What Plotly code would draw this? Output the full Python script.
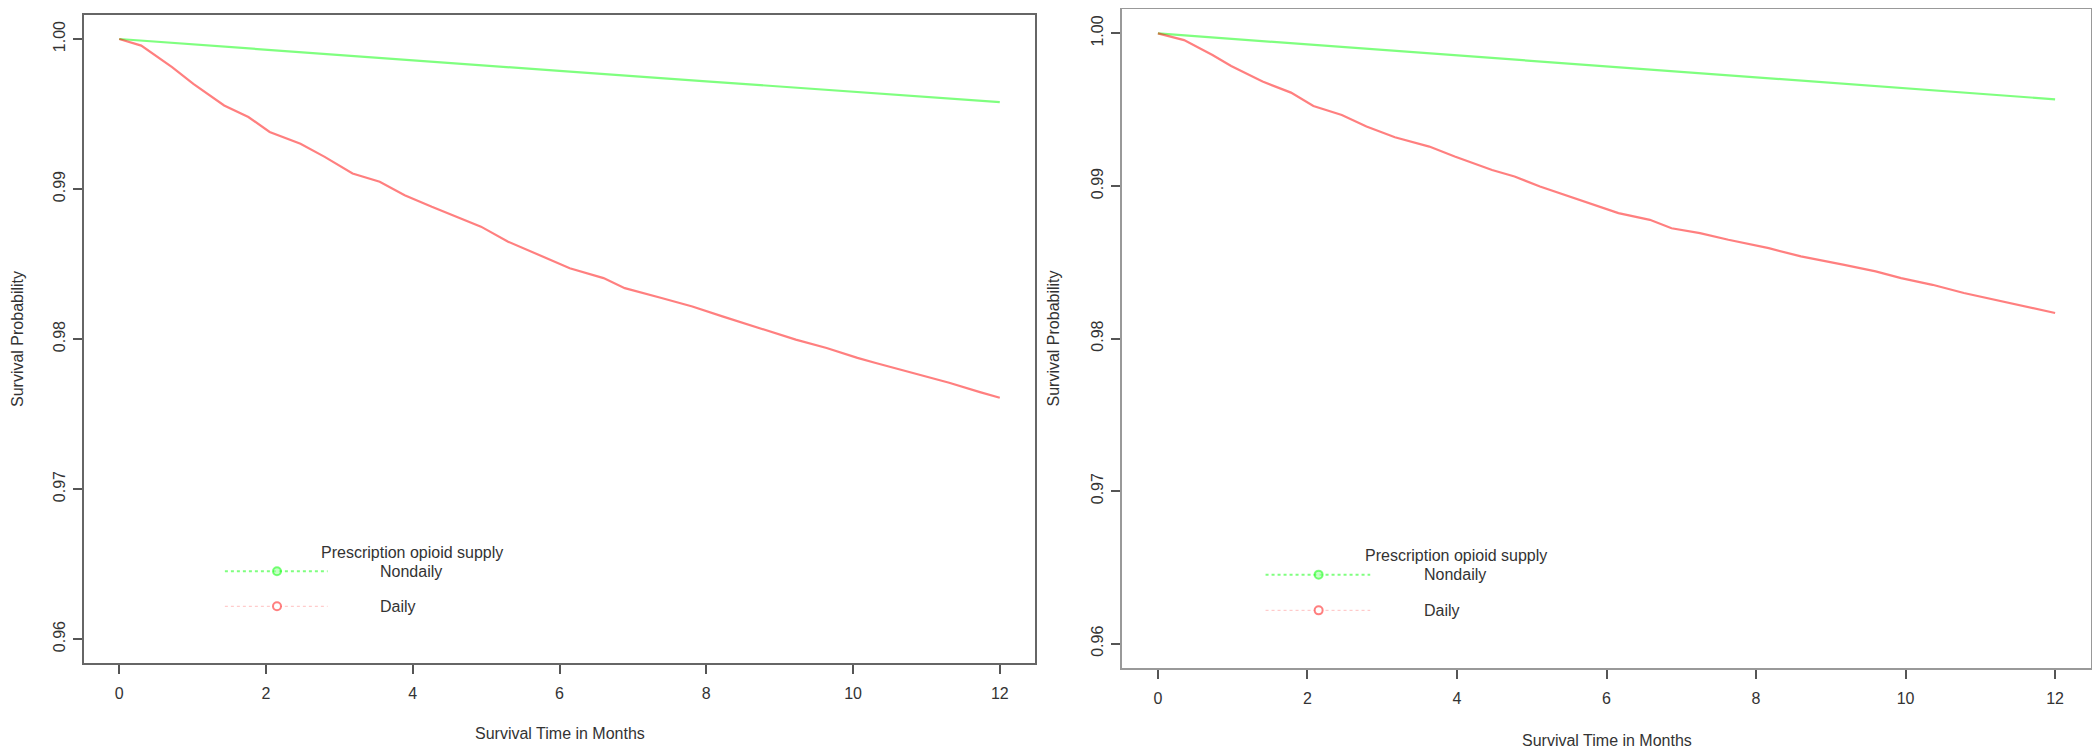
import plotly.graph_objects as go

# ---------------- data ----------------
left_daily_months = [0, 0.3, 0.72, 1.01, 1.43, 1.76, 2.05, 2.47, 2.8, 3.18, 3.55, 3.89, 4.26, 4.64,
                     4.93, 5.3, 5.72, 6.14, 6.6, 6.89, 7.39, 7.81, 8.22, 8.64, 9.22, 9.64, 10.06,
                     10.31, 10.81, 11.31, 11.73, 12.0]
left_daily_surv = [1.0, 0.99956, 0.99812, 0.99701, 0.99557, 0.9948, 0.9938, 0.99302, 0.99214,
                   0.99103, 0.99048, 0.98959, 0.98881, 0.98804, 0.98749, 0.98649, 0.9856, 0.98472,
                   0.98406, 0.98339, 0.98273, 0.98217, 0.98151, 0.98084, 0.97996, 0.9794, 0.97874,
                   0.9784, 0.97774, 0.97708, 0.97646, 0.97608]
left_nondaily_months = [0, 2, 4, 6, 8, 10, 12]
left_nondaily_surv = [1.0, 0.99928, 0.99858, 0.99787, 0.99718, 0.99648, 0.99579]

right_daily_months = [0, 0.35, 0.73, 0.98, 1.40, 1.78, 2.08, 2.46, 2.79, 3.17, 3.63, 3.97, 4.47,
                      4.77, 5.11, 5.65, 6.16, 6.58, 6.87, 7.25, 7.63, 8.17, 8.6, 9.18, 9.6, 9.94,
                      10.36, 10.78, 11.2, 11.62, 12.0]
right_daily_surv = [1.0, 0.99956, 0.99858, 0.99786, 0.99684, 0.99612, 0.99524, 0.99465, 0.99389,
                    0.99319, 0.99258, 0.99193, 0.99105, 0.99062, 0.98996, 0.98909, 0.98822,
                    0.98778, 0.98723, 0.98691, 0.98647, 0.98592, 0.98538, 0.98483, 0.9844,
                    0.98396, 0.98352, 0.98298, 0.98254, 0.98211, 0.98167]
right_nondaily_months = [0, 2, 4, 6, 8, 10, 12]
right_nondaily_surv = [1.0, 0.99928, 0.99856, 0.99784, 0.99712, 0.9964, 0.99568]

x_ticks = [0, 2, 4, 6, 8, 10, 12]
y_ticks = [0.96, 0.97, 0.98, 0.99, 1.00]
y_tick_labels = ["0.96", "0.97", "0.98", "0.99", "1.00"]
legend_title = "Prescription opioid supply"
legend_labels = ["Nondaily", "Daily"]
x_title = "Survival Time in Months"
y_title = "Survival Probability"

# ---------------- styling ----------------
VIEW_W, VIEW_H = 2100, 756
OFF = 8                      # default page body margin
W, H = VIEW_W - 2 * OFF, VIEW_H - 2 * OFF
FONT = "Liberation Sans, Arial, sans-serif"
TXT = "#333333"
RED = "rgba(255,0,0,0.5)"
GREEN = "rgba(0,255,0,0.5)"
X_RANGE = [-0.48, 12.48]
Y_RANGE = [0.9584, 1.0016]


def px_x(s):
    return (s - OFF) / W


def px_y(s):
    return 1 - (s - OFF) / H


fig = go.Figure()

panels = [
    dict(xa="x", ya="y", dom_x=(84, 1035), dom_y=(15, 663), frame="#666666",
         daily=(left_daily_months, left_daily_surv),
         nondaily=(left_nondaily_months, left_nondaily_surv),
         ytitle_x=17, xtitle_y=733),
    dict(xa="x2", ya="y2", dom_x=(1122, 2091), dom_y=(9, 668), frame="#999999",
         daily=(right_daily_months, right_daily_surv),
         nondaily=(right_nondaily_months, right_nondaily_surv),
         ytitle_x=1053, xtitle_y=740),
]

annotations = []
shapes = []

for i, p in enumerate(panels):
    fig.add_trace(go.Scatter(x=p["nondaily"][0], y=p["nondaily"][1], mode="lines",
                             line=dict(color=GREEN, width=2.2), xaxis=p["xa"], yaxis=p["ya"],
                             showlegend=False, hoverinfo="skip"))
    fig.add_trace(go.Scatter(x=p["daily"][0], y=p["daily"][1], mode="lines",
                             line=dict(color=RED, width=2.2), xaxis=p["xa"], yaxis=p["ya"],
                             showlegend=False, hoverinfo="skip"))

    suffix = "" if i == 0 else "2"
    axis_common = dict(showgrid=False, zeroline=False, showline=True, mirror=True,
                       linecolor=p["frame"], linewidth=2, ticks="outside", ticklen=9,
                       tickwidth=1.5, tickcolor="#555555",
                       tickfont=dict(family=FONT, size=16, color=TXT))
    fig.update_layout(**{
        "xaxis" + suffix: dict(domain=[px_x(p["dom_x"][0]), px_x(p["dom_x"][1])],
                               range=X_RANGE, tickvals=x_ticks,
                               anchor="y" + suffix, ticklabelstandoff=6, **axis_common),
        "yaxis" + suffix: dict(domain=[px_y(p["dom_y"][1]), px_y(p["dom_y"][0])],
                               range=Y_RANGE, tickvals=y_ticks, ticktext=y_tick_labels,
                               tickangle=-90, anchor="x" + suffix, ticklabelstandoff=2,
                               **axis_common),
    })

    cy = (p["dom_y"][0] + p["dom_y"][1]) / 2
    cx = (p["dom_x"][0] + p["dom_x"][1]) / 2
    annotations.append(dict(text=y_title, x=px_x(p["ytitle_x"]), y=px_y(cy), xref="paper",
                            yref="paper", textangle=-90, showarrow=False,
                            font=dict(family=FONT, size=16, color=TXT),
                            xanchor="center", yanchor="middle"))
    annotations.append(dict(text=x_title, x=px_x(cx), y=px_y(p["xtitle_y"]), xref="paper",
                            yref="paper", showarrow=False,
                            font=dict(family=FONT, size=16, color=TXT),
                            xanchor="center", yanchor="middle"))

    # legend (drawn in-plot like the original)
    xr, yr = p["xa"], p["ya"]
    annotations.append(dict(text=legend_title, x=3.99, y=0.96575, xref=xr, yref=yr,
                            showarrow=False, font=dict(family=FONT, size=16, color=TXT),
                            xanchor="center", yanchor="middle"))
    rows = [(0.96452, GREEN, "dot", 2, "rgba(0,255,0,0.5)", "rgba(160,255,160,0.6)"),
            (0.96218, "rgba(255,0,0,0.25)", "dot", 1, "rgba(255,0,0,0.5)", "rgba(255,255,255,1)")]
    for (ly, lc, dash, lw, mc, mf), lab in zip(rows, legend_labels):
        shapes.append(dict(type="line", xref=xr, yref=yr, x0=1.44, x1=2.84, y0=ly, y1=ly,
                           line=dict(color=lc, width=lw, dash=dash)))
        shapes.append(dict(type="circle", xref=xr, yref=yr, xsizemode="pixel",
                           ysizemode="pixel", xanchor=2.15, yanchor=ly,
                           x0=-4, x1=4, y0=-4, y1=4, fillcolor=mf,
                           line=dict(color=mc, width=2)))
        annotations.append(dict(text=lab, x=3.53, y=ly, xref=xr, yref=yr, showarrow=False,
                                font=dict(family=FONT, size=16, color=TXT),
                                xanchor="left", yanchor="middle"))

fig.update_layout(width=W, height=H, margin=dict(l=0, r=0, t=0, b=0),
                  paper_bgcolor="white", plot_bgcolor="white",
                  annotations=annotations, shapes=shapes, showlegend=False)

fig.write_html("out.html")
